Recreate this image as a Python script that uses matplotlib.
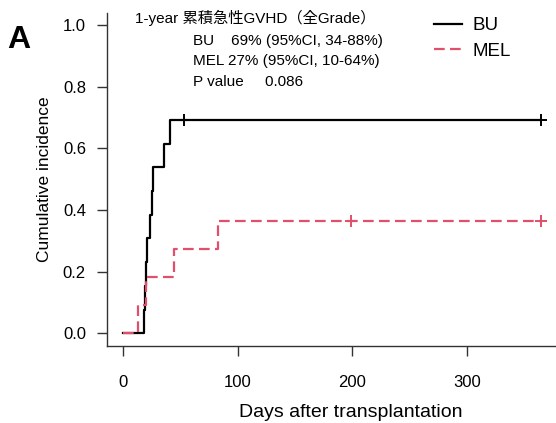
import matplotlib
matplotlib.use("Agg")
import matplotlib.pyplot as plt

plt.rcParams['font.family'] = ['Liberation Sans', 'DejaVu Sans']

# Cumulative incidence curves (step functions)
bu_days = [0, 18, 19, 20, 21, 23, 25, 26, 35, 41]
bu_cuminc = [0.0, 0.077, 0.154, 0.231, 0.308, 0.385, 0.462, 0.538, 0.615, 0.692]
bu_censor = [53, 365]

mel_days = [0, 13, 20, 44, 83]
mel_cuminc = [0.0, 0.091, 0.182, 0.273, 0.364]
mel_censor = [199, 365]

end_day = 365

x_ticks = [0, 100, 200, 300]
y_ticks = [0.0, 0.2, 0.4, 0.6, 0.8, 1.0]

info_title = "1-year 累積急性GVHD（全Grade）"
info_lines = ["BU    69% (95%CI, 34-88%)",
              "MEL 27% (95%CI, 10-64%)",
              "P value     0.086"]

red = '#e0506a'
axis_col = '#333333'


def step_at(days, vals, t):
    """Value of a post-step curve at time t."""
    v = vals[0]
    for d, y in zip(days, vals):
        if d <= t:
            v = y
    return v


W, H = 556, 423
fig = plt.figure(figsize=(W / 100, H / 100), dpi=100)
ax = fig.add_axes([0.192, 0.183, 0.808, 0.787])

ax.step(bu_days + [end_day], bu_cuminc + [bu_cuminc[-1]], where='post',
        color='black', lw=1.6, label='BU')
ax.step(mel_days + [end_day], mel_cuminc + [mel_cuminc[-1]], where='post',
        color=red, lw=1.6, linestyle=(0, (4.8, 2.4)), label='MEL')

ax.plot(bu_censor, [step_at(bu_days, bu_cuminc, t) for t in bu_censor],
        linestyle='none', marker='+', ms=8, mew=1.4, color='black')
ax.plot(mel_censor, [step_at(mel_days, mel_cuminc, t) for t in mel_censor],
        linestyle='none', marker='+', ms=8, mew=1.4, color=red)

ax.set_xlim(-14.6, 378)
ax.set_ylim(-0.04, 1.04)
ax.set_xticks(x_ticks)
ax.set_yticks(y_ticks)
ax.set_yticklabels([f"{v:.1f}" for v in y_ticks])

for side in ['top', 'right']:
    ax.spines[side].set_visible(False)
for side in ['left', 'bottom']:
    ax.spines[side].set_color(axis_col)
    ax.spines[side].set_linewidth(1.0)
ax.tick_params(axis='both', direction='out', length=7, width=1.0,
               color=axis_col, labelsize=12)
ax.tick_params(axis='x', pad=14)
ax.tick_params(axis='y', pad=8)

ax.set_xlabel("Days after transplantation", fontsize=14)
ax.xaxis.set_label_coords((351 - 107) / (W - 107), -0.175)
ax.set_ylabel("Cumulative incidence", fontsize=12.5, labelpad=8)

ax.legend(loc='upper left', bbox_to_anchor=(434 / W, 1 - 17 / H),
          bbox_transform=fig.transFigure, frameon=False, borderpad=0,
          borderaxespad=0, fontsize=13.5, handlelength=1.5,
          handletextpad=0.55, labelspacing=0.45)

cjk = ['Liberation Sans', 'Noto Sans CJK JP']
fig.text(135 / W, 1 - 18 / H, info_title, family=cjk, fontsize=11,
         va='center', ha='left')
for i, line in enumerate(info_lines):
    fig.text(193 / W, 1 - (41 + 20.5 * i) / H, line, family=cjk,
             fontsize=11, va='center', ha='left')

fig.text(19 / W, 1 - 40 / H, "A", fontsize=23, fontweight='bold',
         ha='center', va='center')

fig.savefig("out.png", dpi=100)
